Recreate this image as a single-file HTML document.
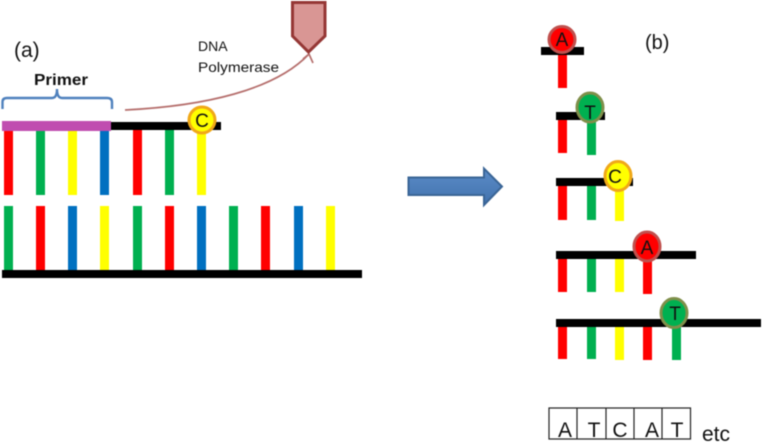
<!DOCTYPE html>
<html><head><meta charset="utf-8"><style>
html,body{margin:0;padding:0;background:#fff;width:762px;height:442px;overflow:hidden}
svg{display:block;filter:blur(0.4px)}
text{font-family:"Liberation Sans",sans-serif;fill:#111}
</style></head><body>
<svg width="762" height="442" viewBox="0 0 762 442" xmlns="http://www.w3.org/2000/svg">
<defs><linearGradient id="b" x1="0" y1="0" x2="0" y2="1"><stop offset="0" stop-color="#5b8cc8"/><stop offset="1" stop-color="#4272ad"/></linearGradient></defs>
<text x="14" y="57" font-size="21">(a)</text>
<text x="34" y="85" font-size="15.500" font-weight="bold" textLength="54" lengthAdjust="spacingAndGlyphs">Primer</text>
<text x="198" y="51" font-size="14">DNA</text>
<text x="198" y="72" font-size="14" textLength="81" lengthAdjust="spacingAndGlyphs">Polymerase</text>
<path d="M2.500 109V102Q2.500 98 7 98H52Q57 98 57 89Q57 98 62 98H107Q112 98 112 102V109" fill="none" stroke="#4f81bd" stroke-width="2.400"/>
<path d="M125 110C205 106 275 90 309 54M303 59L309 54L313 63" fill="none" stroke="#b56e6c" stroke-width="1.700"/>
<path d="M292.500 2.500H325V36L308.500 52L292.500 36Z" fill="#d99694" stroke="#953735" stroke-width="3"/>
<rect x="111" y="122" width="110" height="8"/>
<rect x="2" y="121" width="109" height="10" fill="#c04db0"/>
<g>
<rect x="4" y="131" width="9" height="64" fill="#f00"/><rect x="36" y="131" width="9" height="64" fill="#00b050"/><rect x="68" y="131" width="9" height="64" fill="#ff0"/><rect x="100" y="131" width="9" height="64" fill="#0070c0"/><rect x="133" y="130" width="9" height="65" fill="#f00"/><rect x="165" y="130" width="9" height="65" fill="#00b050"/><rect x="197" y="130" width="9" height="65" fill="#ff0"/>
<rect x="4" y="206" width="9" height="64" fill="#00b050"/><rect x="36" y="206" width="9" height="64" fill="#f00"/><rect x="68" y="206" width="9" height="64" fill="#0070c0"/><rect x="100" y="206" width="9" height="64" fill="#ff0"/><rect x="133" y="206" width="9" height="64" fill="#00b050"/><rect x="165" y="206" width="9" height="64" fill="#f00"/><rect x="197" y="206" width="9" height="64" fill="#0070c0"/><rect x="229" y="206" width="9" height="64" fill="#00b050"/><rect x="261" y="206" width="9" height="64" fill="#f00"/><rect x="294" y="206" width="9" height="64" fill="#0070c0"/><rect x="326" y="206" width="9" height="64" fill="#ff0"/>
</g>
<rect x="2" y="270" width="360" height="8"/>
<circle cx="202" cy="120" r="13" fill="#ff0" stroke="#f0a818" stroke-width="3"/>
<text x="202" y="127" font-size="19" text-anchor="middle">C</text>
<path d="M408.500 177.500H484V168.500L502 186.500L484 205V195H408.500Z" fill="url(#b)" stroke="#3a6596" stroke-width="2"/>

<text x="645" y="49" font-size="20">(b)</text>
<rect x="541" y="47" width="43" height="8"/>
<rect x="558" y="55" width="9" height="33" fill="#f00"/>
<circle cx="562" cy="39.500" r="13" fill="#f00" stroke="#c0504d" stroke-width="3"/>
<text x="562" y="46" font-size="19" text-anchor="middle">A</text>

<rect x="556" y="112" width="49" height="8"/>
<rect x="558" y="120" width="9" height="33" fill="#f00"/><rect x="587" y="120" width="9" height="35" fill="#00b050"/>
<ellipse cx="590" cy="107.500" rx="13" ry="14.500" fill="#00b050" stroke="#7f8f4a" stroke-width="3"/>
<text x="590" y="119" font-size="19" text-anchor="middle">T</text>

<rect x="556" y="178" width="77" height="8"/>
<rect x="558" y="186" width="9" height="34" fill="#f00"/><rect x="587" y="186" width="9" height="34" fill="#00b050"/><rect x="615" y="186" width="9" height="35" fill="#ff0"/>
<ellipse cx="618" cy="176" rx="13" ry="14.500" fill="#ff0" stroke="#f0a818" stroke-width="3"/>
<text x="615" y="183" font-size="19" text-anchor="middle">C</text>

<rect x="556" y="251" width="140" height="8"/>
<rect x="558" y="259" width="9" height="33" fill="#f00"/><rect x="587" y="259" width="9" height="33" fill="#00b050"/><rect x="615" y="259" width="9" height="33" fill="#ff0"/><rect x="643" y="259" width="9" height="35" fill="#f00"/>
<ellipse cx="647" cy="246.500" rx="13" ry="14.500" fill="#f00" stroke="#c0504d" stroke-width="3"/>
<text x="647" y="254" font-size="19" text-anchor="middle">A</text>

<rect x="556" y="319" width="205" height="8"/>
<rect x="558" y="327" width="9" height="32" fill="#f00"/><rect x="587" y="327" width="9" height="32" fill="#00b050"/><rect x="615" y="327" width="9" height="33" fill="#ff0"/><rect x="643" y="327" width="9" height="33" fill="#f00"/><rect x="672" y="327" width="9" height="33" fill="#00b050"/>
<ellipse cx="674" cy="313" rx="13" ry="14.500" fill="#00b050" stroke="#7f8f4a" stroke-width="3"/>
<text x="675" y="320" font-size="19" text-anchor="middle">T</text>

<g fill="none" stroke="#222" stroke-width="1.200">
<rect x="549" y="408" width="141.500" height="31"/>
<path d="M577 408V439M606 408V439M634 408V439M662 408V439"/>
</g>
<g font-size="21" text-anchor="middle">
<text x="565" y="437">A</text><text x="594" y="437">T</text><text x="620" y="437">C</text><text x="652" y="437">A</text><text x="677" y="437">T</text>
</g>
<text x="702" y="441" font-size="21">etc</text>
</svg>
</body></html>
